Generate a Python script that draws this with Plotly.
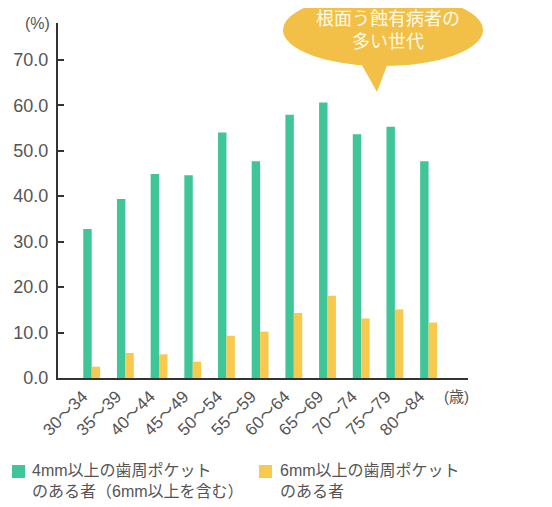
import numpy as np
import plotly.graph_objects as go

# ---- data ----
age_groups = ["30〜34", "35〜39", "40〜44", "45〜49", "50〜54", "55〜59",
              "60〜64", "65〜69", "70〜74", "75〜79", "80〜84"]
pocket_4mm = [32.8, 39.4, 44.9, 44.6, 54.0, 47.7, 57.9, 60.6, 53.6, 55.3, 47.7]
pocket_6mm = [2.5, 5.5, 5.2, 3.6, 9.3, 10.2, 14.3, 18.1, 13.1, 15.1, 12.2]
name_4mm = "4mm以上の歯周ポケット<br>のある者（6mm以上を含む）"
name_6mm = "6mm以上の歯周ポケット<br>のある者"
y_ticks = [0, 10, 20, 30, 40, 50, 60, 70]
bubble_text = "根面う蝕有病者の<br>多い世代"

# ---- style ----
OFF = 8                      # page body margin offset
W, H = 552 - OFF, 507 - OFF  # figure size
L, R, T, B = 50, 84, 15, 129
GREEN = "#3fc597"
YELLOW = "#f7c94e"
BUBBLE = "#f2bf47"
TXT = "#555555"
AX = "#333333"
FONT = "Liberation Sans, Noto Sans CJK JP, sans-serif"

pw = W - L - R
ph = H - T - B


def px_x(x):
    """reference-screen pixel x -> paper x"""
    return (x - OFF - L) / pw


def px_y(y):
    """reference-screen pixel y -> paper y"""
    return (H - B - (y - OFF)) / ph


fig = go.Figure()
fig.add_trace(go.Bar(x=age_groups, y=pocket_4mm, name=name_4mm,
                     marker=dict(color=GREEN, line=dict(width=0)), showlegend=False))
fig.add_trace(go.Bar(x=age_groups, y=pocket_6mm, name=name_6mm,
                     marker=dict(color=YELLOW, line=dict(width=0)), showlegend=False))

# speech bubble
cx, cy, rx, ry = 383, 30, 100, 36
shapes = [
    dict(type="circle", xref="paper", yref="paper",
         x0=px_x(cx - rx), x1=px_x(cx + rx), y0=px_y(cy + ry), y1=px_y(cy - ry),
         fillcolor=BUBBLE, line=dict(width=0), layer="above"),
]
tail = [(358, 58), (377, 92), (389, 60)]
path = "M " + " L ".join(f"{px_x(a):.5f},{px_y(b):.5f}" for a, b in tail) + " Z"
shapes.append(dict(type="path", xref="paper", yref="paper", path=path,
                   fillcolor=BUBBLE, line=dict(width=0), layer="above"))

annotations = [
    dict(text=bubble_text, xref="paper", yref="paper", x=px_x(388), y=px_y(31),
         showarrow=False, font=dict(family=FONT, size=18, color="#fffbe8"),
         xanchor="center", yanchor="middle", align="center"),
    dict(text="(%)", xref="paper", yref="paper", x=px_x(37), y=px_y(23),
         showarrow=False, font=dict(family=FONT, size=16, color=TXT),
         xanchor="center", yanchor="middle"),
    dict(text="(歳)", xref="paper", yref="paper", x=px_x(456), y=px_y(396),
         showarrow=False, font=dict(family=FONT, size=15, color=TXT),
         xanchor="center", yanchor="middle"),
]

# legend (keys + labels)
legend_items = [(name_4mm, GREEN, 12, 30), (name_6mm, YELLOW, 259, 278)]
for label, color, sq_x, tx_x in legend_items:
    shapes.append(dict(type="rect", xref="paper", yref="paper",
                       x0=px_x(sq_x), x1=px_x(sq_x + 13),
                       y0=px_y(478), y1=px_y(465),
                       fillcolor=color, line=dict(width=0)))
    annotations.append(dict(text=label, xref="paper", yref="paper",
                            x=px_x(tx_x), y=px_y(460), showarrow=False,
                            xanchor="left", yanchor="top", align="left",
                            font=dict(family=FONT, size=16, color=TXT)))

fig.update_layout(
    width=W, height=H,
    margin=dict(l=L, r=R, t=T, b=B, pad=0, autoexpand=False),
    paper_bgcolor="white", plot_bgcolor="white",
    barmode="group", bargap=0.5, bargroupgap=0,
    font=dict(family=FONT, color=TXT),
    shapes=shapes, annotations=annotations,
    showlegend=False,
)
fig.update_xaxes(range=[-1, 11.17], showline=True, linecolor=AX, linewidth=2,
                 ticks="", tickangle=-45, tickfont=dict(family=FONT, size=17, color=TXT),
                 ticklabelshift=-9,
                 showgrid=False, zeroline=False, fixedrange=True, automargin=False)
fig.update_yaxes(range=[0, 78.1], tickvals=y_ticks, tickformat=".1f",
                 showline=True, linecolor=AX, linewidth=2,
                 ticks="inside", ticklen=6, tickwidth=2, tickcolor=AX,
                 ticklabelstandoff=4,
                 tickfont=dict(family=FONT, size=18, color=TXT),
                 showgrid=False, zeroline=False, fixedrange=True, automargin=False)

fig.write_html("out.html")
